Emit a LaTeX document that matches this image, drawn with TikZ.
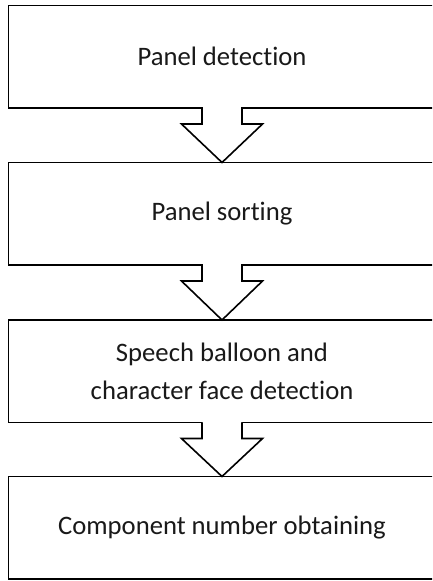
\documentclass[tikz,border=0pt]{standalone}
\usepackage{fontspec}
\setmainfont{Carlito}[Ligatures={NoCommon,NoContextual}]
\usetikzlibrary{calc}
\begin{document}
\begin{tikzpicture}[x=0.75pt,y=-0.75pt,
  stagebox/.style={draw=black, line width=1.2pt, fill=white, rectangle,
    minimum width=320.25pt, minimum height=76.9pt, inner sep=0pt, outer sep=0pt,
    align=center, font=\fontsize{20}{28.5}\selectfont, text=black!90},
  gapfill/.style={fill=white, draw=none},
  flowarrow/.style={draw=black, line width=1.2pt, fill=white, line join=miter}]
\useasboundingbox (0,0) rectangle (432,581);
\clip (0,0) rectangle (432,581);
\node[stagebox] (b1) at (222,56.75) {Panel detection};
\node[stagebox] (b2) at (222,213.75) {Panel sorting};
\node[stagebox] (b3) at (222,371.25) {Speech balloon and\\character face detection};
\node[stagebox] (b4) at (222,527.75) {Component number obtaining};
\foreach \a/\b in {b1/b2, b2/b3, b3/b4}{
  \fill[gapfill] ($(\a.south)+(-19.4,-1.5)$) rectangle ($(\a.south)+(19.4,1.5)$);
  \draw[flowarrow] ($(\a.south)+(-20,0)$) -- ($(\a.south)+(-20,16)$) -- ($(\a.south)+(-40.5,16)$)
    -- (\b.north) -- ($(\a.south)+(40.5,16)$) -- ($(\a.south)+(20,16)$) -- ($(\a.south)+(20,0)$);
}
\end{tikzpicture}
\end{document}
